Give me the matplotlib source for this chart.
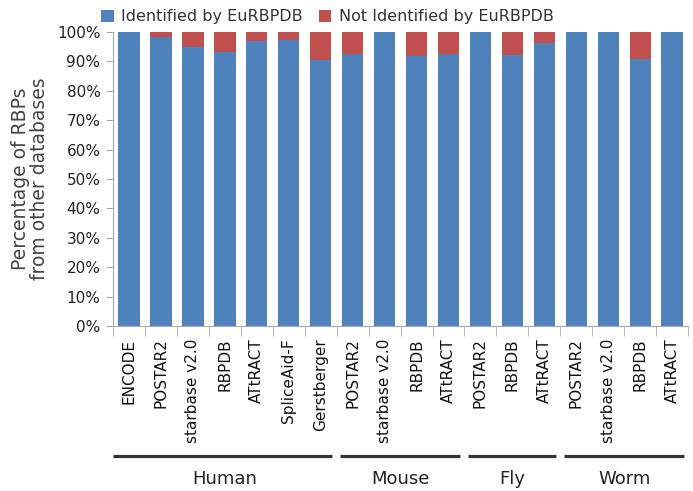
import numpy as np
import matplotlib
matplotlib.use("Agg")
import matplotlib.pyplot as plt
from matplotlib.transforms import blended_transform_factory

# data (percent identified by EuRBPDB)
databases = ["ENCODE", "POSTAR2", "starbase v2.0", "RBPDB", "ATtRACT", "SpliceAid-F", "Gerstberger",
             "POSTAR2", "starbase v2.0", "RBPDB", "ATtRACT",
             "POSTAR2", "RBPDB", "ATtRACT",
             "POSTAR2", "starbase v2.0", "RBPDB", "ATtRACT"]
identified = [100, 98.4, 94.9, 93.3, 96.9, 97.3, 90.4,
              92.4, 100, 91.9, 92.6,
              100, 92.3, 96.4,
              100, 100, 90.7, 100]
species = ["Human", "Mouse", "Fly", "Worm"]
group_sizes = [7, 4, 3, 4]

identified = np.array(identified)
not_identified = 100 - identified
x = np.arange(len(databases))

blue = "#4F81BD"
red = "#C0504D"

fig = plt.figure(figsize=(6.93, 4.91), dpi=100)
ax = fig.add_axes([0.163, 0.336, 0.830, 0.599])

ax.bar(x, identified, width=0.67, color=blue, label="Identified by EuRBPDB")
ax.bar(x, not_identified, width=0.67, bottom=identified, color=red, label="Not Identified by EuRBPDB")

ax.set_xlim(-0.5, len(databases) - 0.5)
ax.set_ylim(0, 100)
ax.set_yticks(np.arange(0, 101, 10))
ax.set_yticklabels([f"{v}%" for v in range(0, 101, 10)], fontsize=11, color="#222222")
ax.set_xticks(x)
ax.set_xticklabels(databases, rotation=90, fontsize=11, color="#111111")
ax.set_xticks(np.arange(-0.5, len(databases), 1), minor=True)
ax.tick_params(axis="x", which="major", length=0, pad=9)
ax.tick_params(axis="x", which="minor", length=7, color="#AAAAAA")
ax.tick_params(axis="y", length=5, color="#AAAAAA", pad=4)

for s in ["top", "right"]:
    ax.spines[s].set_visible(False)
ax.spines["left"].set_color("#AAAAAA")
ax.spines["bottom"].set_color("#AAAAAA")

ax.set_ylabel("Percentage of RBPs\nfrom other databases", fontsize=13.5, color="#444444",
              linespacing=0.95, labelpad=6)

# species group lines and labels under the tick labels
trans = blended_transform_factory(ax.transData, ax.transAxes)
start = 0
for name, n in zip(species, group_sizes):
    left = start - 0.5 + (0 if start == 0 else 0.1)
    right = start + n - 0.5 - 0.13
    ax.plot([left, right], [-0.442, -0.442], color="#333333", lw=2.3,
            transform=trans, clip_on=False, solid_capstyle="butt")
    ax.text(start + (n - 1) / 2, -0.52, name, transform=trans, ha="center", va="center",
            fontsize=13, color="#222222")
    start += n

fig.legend(loc="upper left", bbox_to_anchor=(0.125, 1.01), ncol=2, frameon=False,
           fontsize=11.5, handlelength=0.8, handleheight=0.8, handletextpad=0.45,
           columnspacing=1.0, labelcolor="#333333")

fig.savefig("out.png", dpi=100)
